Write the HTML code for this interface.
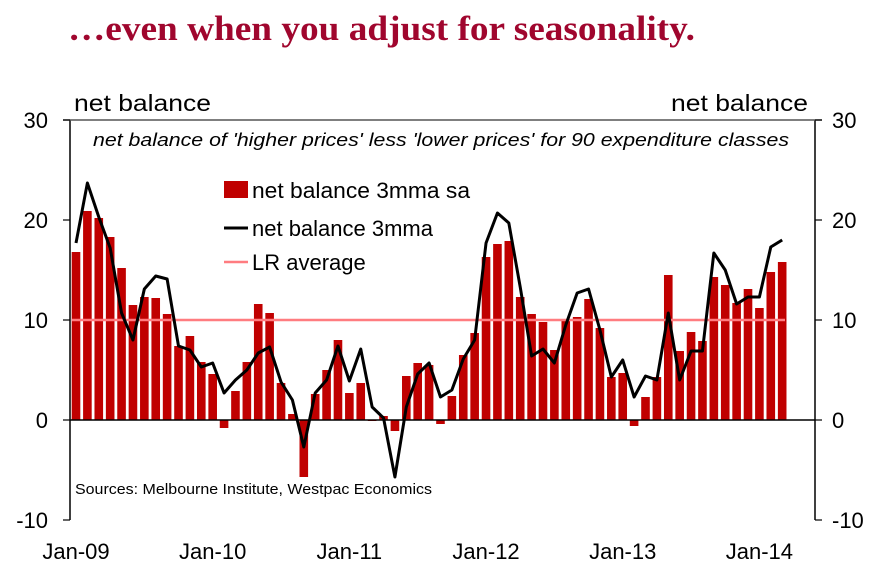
<!DOCTYPE html>
<html><head><meta charset="utf-8"><style>
body{margin:0;background:#fff;width:877px;height:580px;overflow:hidden}
</style></head><body>
<svg width="877" height="580" xmlns="http://www.w3.org/2000/svg">
<text x="68" y="40" font-family="Liberation Serif, serif" font-weight="bold" font-size="35" fill="#A0062E" textLength="627" lengthAdjust="spacingAndGlyphs">…even when you adjust for seasonality.</text>
<g id="plot"></g>
</svg>
<script>
const categories=["Jan-09","Jan-10","Jan-11","Jan-12","Jan-13","Jan-14"];
const tickValues=[30,20,10,0,-10];
const barValues=[16.8,20.9,20.2,18.3,15.2,11.5,12.3,12.2,10.6,7.4,8.4,5.8,4.6,-0.8,2.9,5.8,11.6,10.7,3.7,0.6,-5.7,2.6,5.0,8.0,2.7,3.7,-0.1,0.4,-1.1,4.4,5.7,5.5,-0.4,2.4,6.5,8.7,16.3,17.6,17.9,12.3,10.6,9.8,7.0,9.9,10.3,12.1,9.2,4.3,4.7,-0.6,2.3,4.3,14.5,6.9,8.8,7.9,14.3,13.5,11.7,13.1,11.2,14.8,15.8];
const lineValues=[17.7,23.7,20.3,17.2,10.7,8.0,13.1,14.4,14.1,7.4,7.0,5.3,5.7,2.7,4.0,5.0,6.7,7.3,3.8,2.0,-2.7,2.7,4.0,7.4,3.9,7.1,1.3,0.2,-5.7,1.3,4.6,5.7,2.3,3.0,6.1,8.0,17.7,20.7,19.7,13.3,6.4,7.1,5.7,9.5,12.7,13.1,9.0,4.3,6.0,2.3,4.4,4.0,10.7,4.0,6.9,6.9,16.7,15.0,11.6,12.3,12.3,17.3,18.0];
const lrAverage=[10];
const NS="http://www.w3.org/2000/svg";
const g=document.getElementById('plot');
const L=70,R=815,T=120,B=520;
const y=v=>420-v*10;
const x=i=>76+i*11.39;
function mk(t,a,txt){const e=document.createElementNS(NS,t);for(const k in a)e.setAttribute(k,a[k]);if(txt!=null)e.textContent=txt;g.appendChild(e);return e;}
let e=mk('line',{x1:L,y1:T,x2:L,y2:B,stroke:'#000','stroke-width':1.5});


e=mk('line',{x1:R,y1:T,x2:R,y2:B,stroke:'#000','stroke-width':1.5});


e=mk('line',{x1:63,y1:T,x2:822,y2:T,stroke:'#555','stroke-width':1.5});


tickValues.forEach(v=>{
 let t=mk('line',{x1:63,y1:y(v),x2:L,y2:y(v),stroke:'#000','stroke-width':1.2});
 
 
 t=mk('line',{x1:R,y1:y(v),x2:822,y2:y(v),stroke:'#000','stroke-width':1.2});
 
 
 t=mk('text',{x:48,y:y(v)+8,'text-anchor':'end','font-family':'Liberation Sans, sans-serif','font-size':22},String(v));
 
 
 t=mk('text',{x:832,y:y(v)+8,'font-family':'Liberation Sans, sans-serif','font-size':22},String(v));
 
 
});
categories.forEach((c,k)=>{
 const t=mk('text',{x:x(k*12),y:559,'text-anchor':'middle','font-family':'Liberation Sans, sans-serif','font-size':22},c);
 
 
});
barValues.forEach((v,i)=>{
 const b=mk('rect',{x:x(i)-4.3,y:Math.min(y(v),y(0)),width:8.6,height:Math.abs(y(v)-y(0)),fill:'#C00000'});
 
 
});
e=mk('line',{x1:L,y1:y(0),x2:R,y2:y(0),stroke:'#000','stroke-width':1.5});


e=mk('line',{x1:72,y1:y(lrAverage[0]),x2:785,y2:y(lrAverage[0]),stroke:'#FF7C80','stroke-width':2.5});


e=mk('polyline',{points:lineValues.map((v,i)=>x(i)+','+y(v)).join(' '),fill:'none',stroke:'#000','stroke-width':3,'stroke-linejoin':'round'});


const F='Liberation Sans, sans-serif';
e=mk('text',{x:74,y:111,'font-family':F,'font-size':23,textLength:137,lengthAdjust:'spacingAndGlyphs'},'net balance');


e=mk('text',{x:671,y:111,'font-family':F,'font-size':23,textLength:137,lengthAdjust:'spacingAndGlyphs'},'net balance');


e=mk('text',{x:93,y:146,'font-family':F,'font-size':18,'font-style':'italic',textLength:696,lengthAdjust:'spacingAndGlyphs'},"net balance of 'higher prices' less 'lower prices' for 90 expenditure classes");


e=mk('text',{x:75,y:494,'font-family':F,'font-size':15,textLength:357,lengthAdjust:'spacingAndGlyphs'},'Sources: Melbourne Institute, Westpac Economics');


e=mk('rect',{x:224,y:181,width:24,height:17,fill:'#C00000'});


e=mk('text',{x:252,y:198,'font-family':F,'font-size':22,textLength:218,lengthAdjust:'spacingAndGlyphs'},'net balance 3mma sa');


e=mk('line',{x1:224,y1:228,x2:248,y2:228,stroke:'#000','stroke-width':3});


e=mk('text',{x:252,y:236,'font-family':F,'font-size':22},'net balance 3mma');


e=mk('line',{x1:224,y1:262,x2:248,y2:262,stroke:'#FF7C80','stroke-width':2.5});


e=mk('text',{x:252,y:270,'font-family':F,'font-size':22},'LR average');


</script>
</body></html>
